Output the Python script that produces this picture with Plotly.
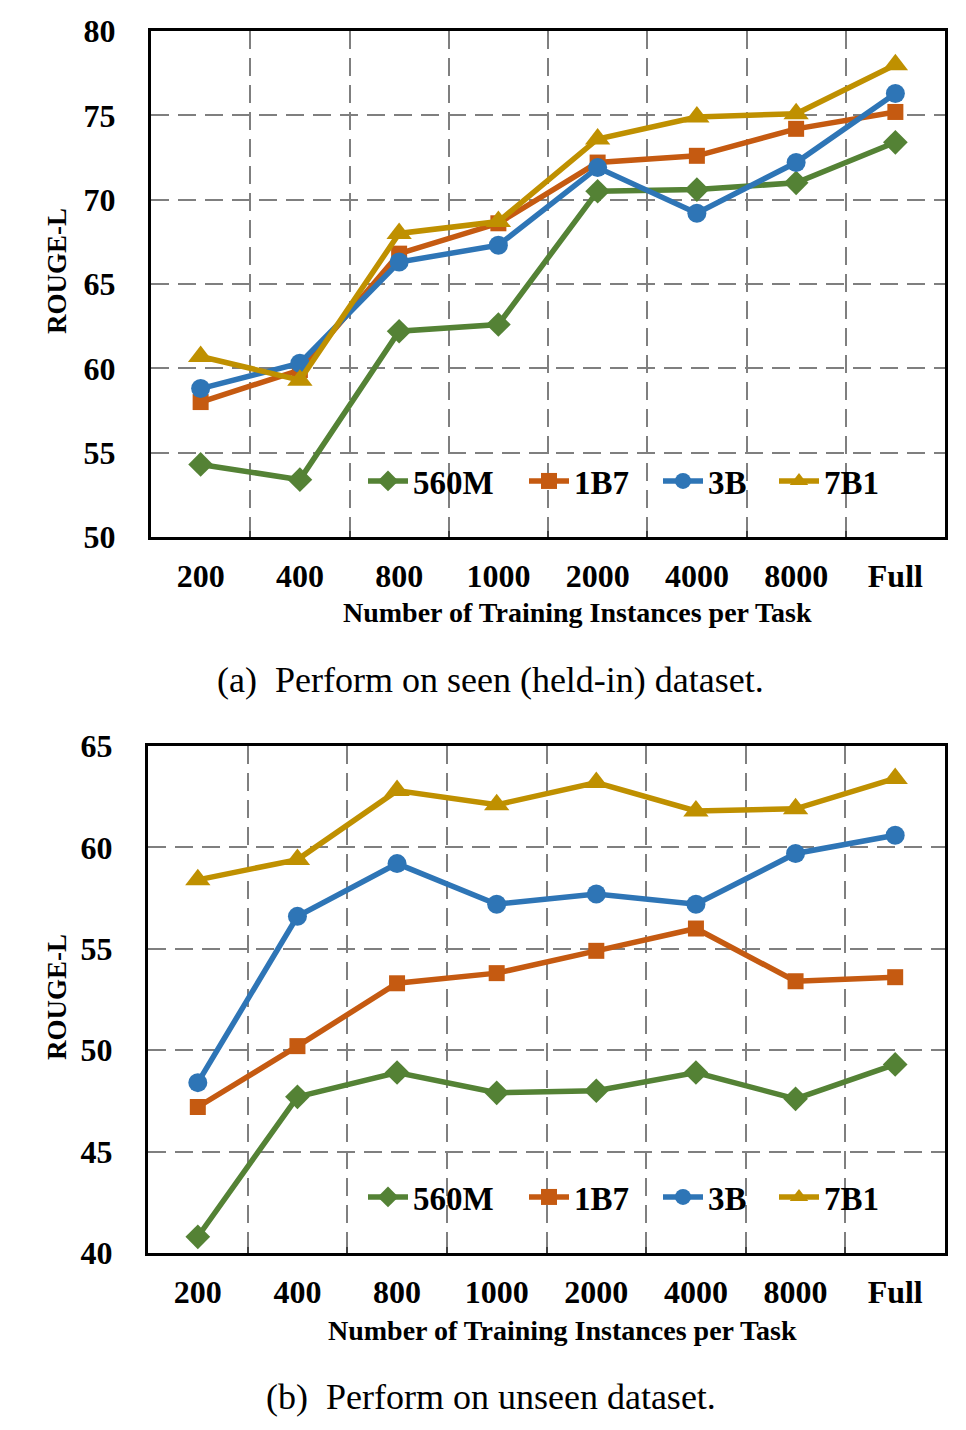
import plotly.graph_objects as go

# ---------------- data ----------------
categories = ["200", "400", "800", "1000", "2000", "4000", "8000", "Full"]
series_names = ["560M", "1B7", "3B", "7B1"]

seen_560m = [54.3, 53.4, 62.2, 62.6, 70.5, 70.6, 71.0, 73.4]
seen_1b7 = [58.0, 59.9, 66.8, 68.6, 72.2, 72.6, 74.2, 75.2]
seen_3b = [58.8, 60.3, 66.3, 67.3, 71.9, 69.2, 72.2, 76.3]
seen_7b1 = [60.7, 59.3, 68.0, 68.7, 73.6, 74.9, 75.1, 78.0]

unseen_560m = [40.8, 47.7, 48.9, 47.9, 48.0, 48.9, 47.6, 49.3]
unseen_1b7 = [47.2, 50.2, 53.3, 53.8, 54.9, 56.0, 53.4, 53.6]
unseen_3b = [48.4, 56.6, 59.2, 57.2, 57.7, 57.2, 59.7, 60.6]
unseen_7b1 = [58.4, 59.4, 62.8, 62.1, 63.2, 61.8, 61.9, 63.4]

x_title = "Number of Training Instances per Task"
y_title = "ROUGE-L"
caption_a = "(a)\u2002Perform on seen (held-in) dataset."
caption_b = "(b)\u2002Perform on unseen dataset."

# ---------------- style ----------------
W, H = 966, 1430
FONT = "Liberation Serif, Times New Roman, serif"
colors = ["#548235", "#C55A11", "#2E75B6", "#BF9000"]
symbols = ["diamond", "square", "circle", "triangle-up"]
msizes = [19, 16, 19, 22]
GRID = "#7F7F7F"
DASH = "18px,9px"
legend_px = [363, 524, 658, 774]


def px_x(p):
    return p / W


def px_y(p):
    return 1 - p / H


fig = go.Figure()

seen = [seen_560m, seen_1b7, seen_3b, seen_7b1]
unseen = [unseen_560m, unseen_1b7, unseen_3b, unseen_7b1]

legend_layout = {}
legend_common = dict(
    orientation="h", xanchor="left", yanchor="middle",
    bgcolor="rgba(0,0,0,0)", borderwidth=0, itemwidth=40,
    font=dict(family=FONT, size=33, color="black", weight="bold"),
    itemclick=False, itemdoubleclick=False,
)

for panel, (data, xa, ya, ly) in enumerate([
        (seen, "x", "y", 481), (unseen, "x2", "y2", 1197)]):
    for i, name in enumerate(series_names):
        lname = "legend" if (panel == 0 and i == 0) else f"legend{panel * 4 + i + 1}"
        fig.add_trace(go.Scatter(
            x=categories, y=data[i], mode="lines+markers", name=name,
            line=dict(color=colors[i], width=5.5),
            marker=dict(symbol=symbols[i], size=msizes[i], color=colors[i]),
            xaxis=xa, yaxis=ya, legend=lname,
        ))
        legend_layout[lname] = dict(legend_common, x=px_x(legend_px[i]), y=px_y(ly))

tickfont = dict(family=FONT, size=32, color="black", weight="bold")


def xaxis(domain, anchor):
    return dict(
        domain=domain, anchor=anchor, type="category",
        categoryorder="array", categoryarray=categories,
        range=[-0.5, 7.5], tickson="boundaries",
        showgrid=True, gridcolor=GRID, gridwidth=2.2, griddash=DASH,
        showline=True, linecolor="black", linewidth=3, mirror=True,
        ticks="inside", ticklen=6, tickwidth=1.5, tickcolor="#404040",
        tickfont=tickfont, ticklabelstandoff=9, automargin=False,
        fixedrange=True,
    )


def yaxis(domain, anchor, rng):
    return dict(
        domain=domain, anchor=anchor, range=rng, tick0=rng[0], dtick=5,
        showgrid=True, gridcolor=GRID, gridwidth=2.2, griddash=DASH,
        showline=True, linecolor="black", linewidth=3, mirror=True,
        zeroline=False, ticks="", tickfont=tickfont,
        ticklabelstandoff=26, automargin=False, fixedrange=True,
    )


annotations = []


def ann(text, x, y, size, bold=True, angle=0):
    annotations.append(dict(
        text=text, x=px_x(x), y=px_y(y), xref="paper", yref="paper",
        xanchor="center", yanchor="middle", showarrow=False, textangle=angle,
        font=dict(family=FONT, size=size, color="black",
                  weight="bold" if bold else "normal"),
    ))


ann(x_title, 577, 613, 28)
ann(x_title, 562, 1330, 28)
ann(y_title, 57, 271, 27, angle=-90)
ann(y_title, 57, 997, 27, angle=-90)
ann(caption_a, 490, 680, 36, bold=False)
ann(caption_b, 491, 1397, 36, bold=False)

fig.update_layout(
    width=W, height=H,
    margin=dict(l=0, r=0, t=0, b=0),
    paper_bgcolor="white", plot_bgcolor="white",
    font=dict(family=FONT, color="black"),
    xaxis=xaxis([px_x(151), px_x(945)], "y"),
    yaxis=yaxis([px_y(537), px_y(31)], "x", [50, 80]),
    xaxis2=xaxis([px_x(148), px_x(945)], "y2"),
    yaxis2=yaxis([px_y(1253), px_y(746)], "x2", [40, 65]),
    annotations=annotations,
    showlegend=True,
    **legend_layout,
)

fig.write_html("out.html")
